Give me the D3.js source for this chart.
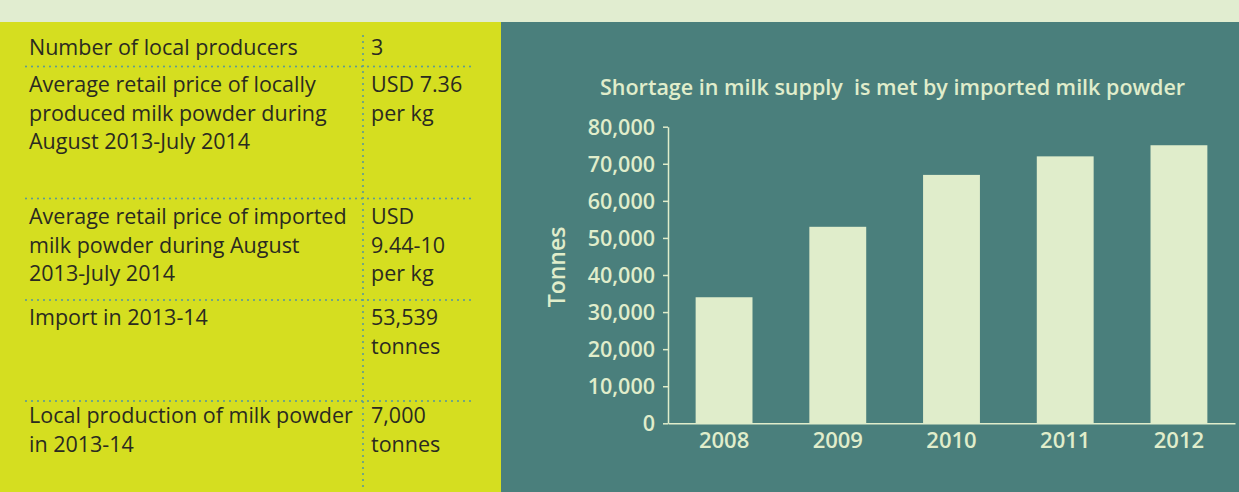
<!DOCTYPE html>
<html>
<head>
<meta charset="utf-8">
<script src="https://cdn.jsdelivr.net/npm/d3@7"></script>
<style>
  html, body { margin: 0; padding: 0; background: #e1edd0; }
  svg { display: block; }
</style>
</head>
<body>
<svg id="chart" width="1239" height="492"></svg>
<script>
// Milk powder imports (tonnes) per year
const years = ["2008", "2009", "2010", "2011", "2012"];
const shortage = [34000, 53000, 67000, 72000, 75000];
const yTicks = [0, 10000, 20000, 30000, 40000, 50000, 60000, 70000, 80000];

// Fact table: left column labels and right column values (one entry per row, one string per line)
const factLabels = [
  ["Number of local producers"],
  ["Average retail price of locally", "produced milk powder during", "August 2013-July 2014"],
  ["Average retail price of imported", "milk powder during August", "2013-July 2014"],
  ["Import in 2013-14"],
  ["Local production of milk powder", "in 2013-14"]
];
const factValues = [
  ["3"],
  ["USD 7.36", "per kg"],
  ["USD", "9.44-10", "per kg"],
  ["53,539", "tonnes"],
  ["7,000", "tonnes"]
];

const svg = d3.select("#chart");
const W = 1239, H = 492;

// Background panels
svg.append("rect").attr("x", 0).attr("y", 0).attr("width", W).attr("height", H).attr("fill", "#e1edd0");
svg.append("rect").attr("x", 0).attr("y", 22).attr("width", 501).attr("height", H - 22).attr("fill", "#d5de20");
svg.append("rect").attr("x", 501).attr("y", 22).attr("width", W - 501).attr("height", H - 22).attr("fill", "#4a7f7c");

// ---- Fact table ----
const table = svg.append("g").attr("font-family", "'Open Sans', sans-serif")
  .attr("font-size", 21.5).attr("fill", "#2a2a20");
const rowBaseline = [55, 92, 224, 325, 423];
const lineH = 28.5;
const labelX = 29, valueX = 371;
const dotColor = "#5d9b96";

factLabels.forEach((lines, i) => {
  const t = table.append("text").attr("x", labelX).attr("y", rowBaseline[i]);
  lines.forEach((s, j) => t.append("tspan").attr("x", labelX).attr("y", rowBaseline[i] + j * lineH).text(s));
});
factValues.forEach((lines, i) => {
  const t = table.append("text").attr("x", valueX).attr("y", rowBaseline[i]);
  lines.forEach((s, j) => t.append("tspan").attr("x", valueX).attr("y", rowBaseline[i] + j * lineH).text(s));
});

// Dotted separators
const sepY = [66.5, 198.5, 300, 401];
sepY.forEach(y => {
  table.append("line").attr("x1", 26).attr("x2", 472).attr("y1", y).attr("y2", y)
    .attr("stroke", dotColor).attr("stroke-width", 2.2).attr("stroke-linecap", "round")
    .attr("stroke-dasharray", "0 6");
});
table.append("line").attr("x1", 363).attr("x2", 363).attr("y1", 36).attr("y2", 490)
  .attr("stroke", dotColor).attr("stroke-width", 2.2).attr("stroke-linecap", "round")
  .attr("stroke-dasharray", "0 6");

// ---- Bar chart ----
const light = "#e0edcb";
const x0 = 668, x1 = 1235, yTop = 126.7, yBase = 423.3;

const x = d3.scaleBand().domain(years).range([x0, x1]).paddingInner(0.5).paddingOuter(0.243);
const y = d3.scaleLinear().domain([0, 80000]).range([yBase, yTop]);

const chart = svg.append("g").attr("font-family", "'Open Sans', sans-serif").attr("font-weight", 600);

chart.append("text")
  .attr("x", 600).attr("y", 95)
  .attr("font-size", 21.5).attr("fill", light)
  .attr("xml:space", "preserve")
  .text("Shortage in milk supply  is met by imported milk powder");

chart.selectAll("rect.bar").data(years).join("rect")
  .attr("class", "bar")
  .attr("x", d => x(d))
  .attr("width", x.bandwidth())
  .attr("y", (d, i) => y(shortage[i]))
  .attr("height", (d, i) => yBase - y(shortage[i]))
  .attr("fill", light);

const yAxis = chart.append("g").attr("transform", `translate(${x0},0)`)
  .call(d3.axisLeft(y).tickValues(yTicks).tickFormat(d3.format(",")).tickSize(5).tickSizeOuter(0).tickPadding(8));
yAxis.select(".domain").attr("stroke", light).attr("stroke-width", 1.5);
yAxis.selectAll(".tick line").attr("stroke", light).attr("stroke-width", 1.5);
yAxis.selectAll(".tick text").attr("fill", light).attr("font-size", 21.5)
  .attr("font-family", "'Open Sans', sans-serif").attr("font-weight", 600).attr("dy", "0.35em");

const xAxis = chart.append("g").attr("transform", `translate(0,${yBase})`)
  .call(d3.axisBottom(x).tickSize(0).tickSizeOuter(0).tickPadding(9));
xAxis.select(".domain").attr("stroke", light).attr("stroke-width", 1.5);
xAxis.selectAll(".tick text").attr("fill", light).attr("font-size", 22)
  .attr("font-family", "'Open Sans', sans-serif").attr("font-weight", 600);

chart.append("text")
  .attr("transform", "translate(565,267) rotate(-90)")
  .attr("text-anchor", "middle")
  .attr("font-size", 23).attr("fill", light)
  .text("Tonnes");
</script>
</body>
</html>
